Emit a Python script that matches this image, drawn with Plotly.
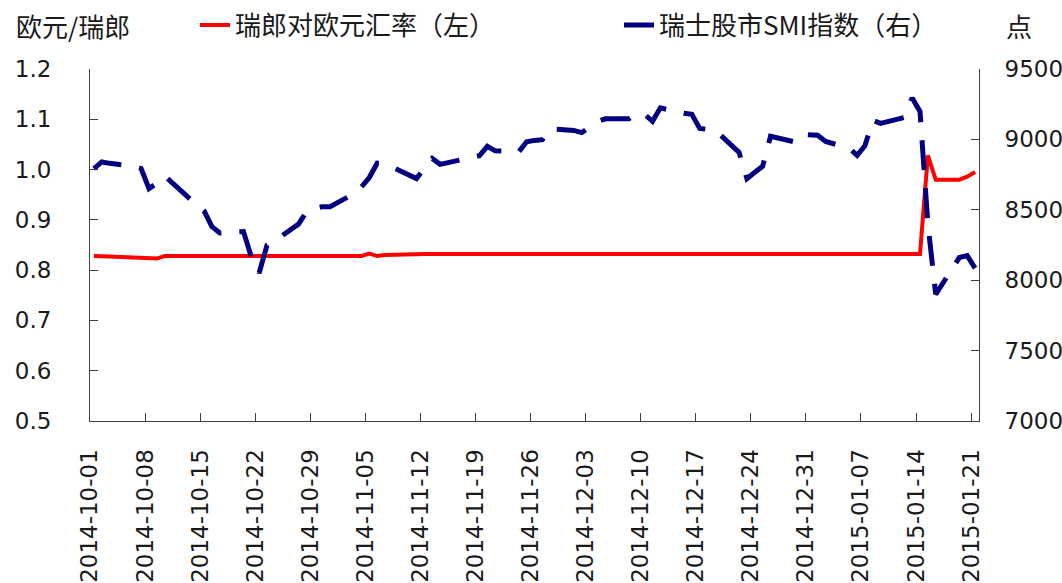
import plotly.graph_objects as go

# ---- data ----
oct_dates = ["2014-10-01", "2014-10-02", "2014-10-03", "2014-10-06", "2014-10-07", "2014-10-08",
             "2014-10-09", "2014-10-10", "2014-10-13", "2014-10-14", "2014-10-15", "2014-10-16",
             "2014-10-17", "2014-10-20", "2014-10-21", "2014-10-22", "2014-10-23", "2014-10-24",
             "2014-10-27", "2014-10-28", "2014-10-29", "2014-10-30", "2014-10-31"]
nov_dates = ["2014-11-03", "2014-11-04", "2014-11-05", "2014-11-06", "2014-11-07", "2014-11-10",
             "2014-11-11", "2014-11-12", "2014-11-13", "2014-11-14", "2014-11-17", "2014-11-18",
             "2014-11-19", "2014-11-20", "2014-11-21", "2014-11-24", "2014-11-25", "2014-11-26",
             "2014-11-27", "2014-11-28"]
dec_dates = ["2014-12-01", "2014-12-02", "2014-12-03", "2014-12-04", "2014-12-05", "2014-12-08",
             "2014-12-09", "2014-12-10", "2014-12-11", "2014-12-12", "2014-12-15", "2014-12-16",
             "2014-12-17", "2014-12-18", "2014-12-19", "2014-12-22", "2014-12-23", "2014-12-24",
             "2014-12-25", "2014-12-26", "2014-12-29", "2014-12-30", "2014-12-31"]
jan_dates = ["2015-01-01", "2015-01-02", "2015-01-05", "2015-01-06", "2015-01-07", "2015-01-08",
             "2015-01-09", "2015-01-12", "2015-01-13", "2015-01-14", "2015-01-15", "2015-01-16",
             "2015-01-19", "2015-01-20", "2015-01-21"]

# 瑞郎对欧元汇率 (left axis)
chf_eur_oct = [0.828, 0.828, 0.827, 0.825, 0.824, 0.823, 0.823, 0.828, 0.828, 0.828, 0.828, 0.828,
               0.828, 0.828, 0.828, 0.828, 0.828, 0.828, 0.828, 0.828, 0.828, 0.828, 0.828]
chf_eur_nov = [0.828, 0.828, 0.833, 0.828, 0.830, 0.832, 0.832, 0.832, 0.832, 0.832, 0.832, 0.832,
               0.832, 0.832, 0.832, 0.832, 0.832, 0.832, 0.832, 0.832]
chf_eur_dec = [0.832, 0.832, 0.832, 0.832, 0.832, 0.832, 0.832, 0.832, 0.832, 0.832, 0.832, 0.832,
               0.832, 0.832, 0.832, 0.832, 0.832, 0.832, 0.832, 0.832, 0.832, 0.832, 0.832]
chf_eur_jan = [0.832, 0.832, 0.832, 0.832, 0.832, 0.832, 0.832, 0.832, 0.832, 0.832, 1.028, 0.980,
               0.980, 0.986, 0.995]

# 瑞士股市SMI指数 (right axis)
smi_oct = [8793, 8840, 8830, 8809, 8793, 8650, 8689, 8740, 8588, 8540, 8492, 8380,
           8335, 8345, 8167, 8051, 8249, 8280, 8398, 8483, 8511, 8522, 8522]
smi_nov = [8612, 8662, 8729, 8831, 8828, 8749, 8722, 8795, 8864, 8823, 8855, 8866,
           8884, 8951, 8919, 8912, 8983, 8993, 8998, 9075]
smi_dec = [9064, 9048, 9087, 9126, 9146, 9147, 9185, 9178, 9128, 9224, 9185, 9178,
           9078, 9068, 9064, 8908, 8721, 8767, 8809, 9022, 8983, 9036, 9036]
smi_jan = [9029, 8986, 8937, 8887, 8955, 9135, 9114, 9156, 9294, 9199, 8401, 7900,
           8161, 8175, 8086]

dates = oct_dates + nov_dates + dec_dates + jan_dates
chf_eur = chf_eur_oct + chf_eur_nov + chf_eur_dec + chf_eur_jan
smi = smi_oct + smi_nov + smi_dec + smi_jan

left_ticks = [0.5, 0.6, 0.7, 0.8, 0.9, 1.0, 1.1, 1.2]
right_ticks = [7000, 7500, 8000, 8500, 9000, 9500]

name_fx = "瑞郎对欧元汇率（左）"
name_smi = "瑞士股市SMI指数（右）"
left_title = "欧元/瑞郎"
right_title = "点"

NUM_FONT = "DejaVu Sans"
CJK_FONT = "Noto Sans CJK SC"
AXIS_COLOR = "#404040"
TEXT_COLOR = "#1a1a1a"
DAY_MS = 86400000

fig = go.Figure()
fig.add_trace(go.Scatter(
    x=dates, y=chf_eur, name=name_fx, mode="lines",
    xperiod=DAY_MS, xperiodalignment="middle",
    line=dict(color="#FF0000", width=4),
    legend="legend",
))
fig.add_trace(go.Scatter(
    x=dates, y=smi, name=name_smi, mode="lines", yaxis="y2",
    xperiod=DAY_MS, xperiodalignment="middle",
    line=dict(color="#000080", width=5, dash="30px,18px"),
    legend="legend2",
))

tick_font = dict(family=NUM_FONT, size=23, color=TEXT_COLOR)
axis_common = dict(
    ticks="inside", ticklen=8, tickcolor=AXIS_COLOR, tickwidth=1,
    showline=True, linecolor=AXIS_COLOR, linewidth=1,
    showgrid=False, zeroline=False, automargin=False,
    tickfont=tick_font,
)

fig.update_layout(
    width=1062, height=583,
    margin=dict(l=90, r=83, t=69, b=162, autoexpand=False),
    paper_bgcolor="white", plot_bgcolor="white",
    font=dict(family=NUM_FONT, size=23, color=TEXT_COLOR),
    xaxis=dict(
        type="date",
        range=["2014-10-01", "2015-01-22"],
        tick0="2014-10-01", dtick=7 * DAY_MS,
        tickformat="%Y-%m-%d", tickangle=-90,
        ticklabelstandoff=18,
        **axis_common,
    ),
    yaxis=dict(
        range=[0.5, 1.2], tickvals=left_ticks, tickformat=".1f",
        ticklabelstandoff=33,
        **axis_common,
    ),
    yaxis2=dict(
        range=[7000, 9500], tickvals=right_ticks,
        overlaying="y", side="right",
        ticklabelstandoff=20,
        **axis_common,
    ),
    legend=dict(
        xref="container", yref="container",
        x=195 / 1062, y=1 - 25 / 583, xanchor="left", yanchor="middle",
        orientation="h", bgcolor="rgba(0,0,0,0)",
        font=dict(family=CJK_FONT, size=26, color=TEXT_COLOR),
    ),
    legend2=dict(
        xref="container", yref="container",
        x=619 / 1062, y=1 - 25 / 583, xanchor="left", yanchor="middle",
        orientation="h", bgcolor="rgba(0,0,0,0)",
        font=dict(family=CJK_FONT, size=26, color=TEXT_COLOR),
    ),
    showlegend=True,
    annotations=[
        dict(text=left_title, xref="paper", yref="paper",
             x=(14 - 90) / 889, y=1 + (69 - 25) / 352, xanchor="left", yanchor="middle",
             showarrow=False, font=dict(family=CJK_FONT, size=26, color=TEXT_COLOR)),
        dict(text=right_title, xref="paper", yref="paper",
             x=(1019 - 90) / 889, y=1 + (69 - 25) / 352, xanchor="center", yanchor="middle",
             showarrow=False, font=dict(family=CJK_FONT, size=26, color=TEXT_COLOR)),
    ],
)

fig.write_html("out.html")
